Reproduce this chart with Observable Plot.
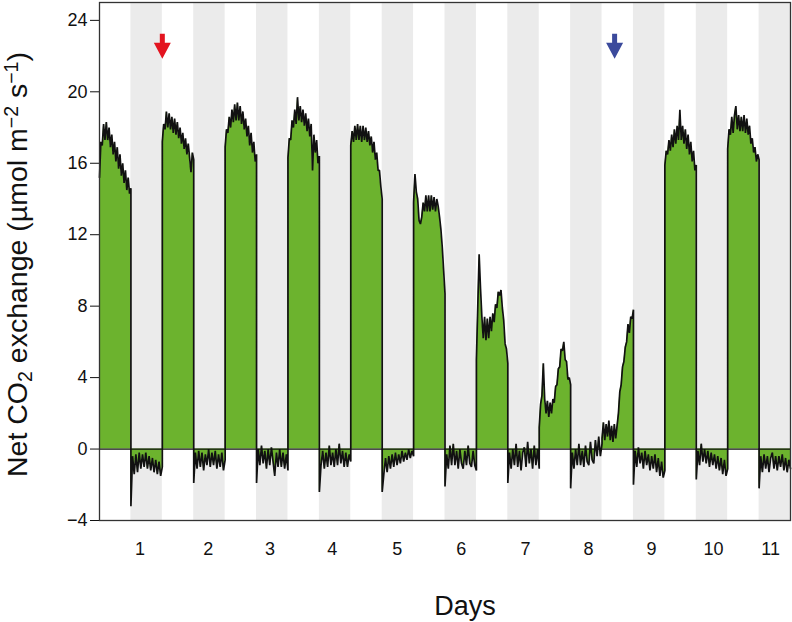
<!DOCTYPE html>
<html>
<head>
<meta charset="utf-8">
<script src="https://cdn.jsdelivr.net/npm/d3@7"></script>
<script src="https://cdn.jsdelivr.net/npm/@observablehq/plot@0.6"></script>
<style>
  body { margin: 0; background: #fff; }
  #chart svg { display: block; }
</style>
</head>
<body>
<div id="chart"></div>
<script>
// ---- Data: net CO2 exchange traces, one array per 12-h half-day (light, then dark) ----
const light1  = [15.2, 17.2, 17.0, 18.2, 17.3, 18.3, 17.3, 18.0, 16.9, 17.6, 16.5, 17.2, 16.1, 16.9, 15.7, 16.5, 15.3, 16.0, 14.9, 15.6, 14.5, 15.2, 14.3, 14.6];
const dark1   = [-3.2, -0.4, -1.4, -0.3, -1.3, -0.2, -1.1, -0.3, -1.0, -0.2, -1.1, -0.4, -1.2, -0.5, -1.3, -0.6, -1.4, -0.7, -1.5, -1.0];
const light2  = [17.2, 18.2, 17.9, 18.9, 18.0, 18.8, 17.9, 18.6, 17.7, 18.5, 17.6, 18.3, 17.4, 18.0, 17.1, 17.7, 16.8, 17.4, 16.5, 17.1, 16.3, 15.5, 16.6, 16.2];
const dark2   = [-1.9, -0.2, -1.1, -0.1, -1.0, -0.2, -1.2, -0.3, -0.9, 0.0, -1.0, -0.2, -0.9, -0.1, -1.1, -0.3, -1.0, -0.2, -1.2, -0.6];
const light3  = [16.9, 17.9, 17.7, 18.6, 18.0, 19.0, 18.3, 19.3, 18.4, 19.4, 18.4, 19.2, 18.2, 18.9, 17.9, 18.5, 17.5, 18.1, 17.0, 17.7, 16.6, 17.2, 16.1, 16.5];
const dark3   = [-1.9, 0.0, -0.9, 0.2, -0.8, -0.1, -1.1, 0.0, -0.9, 0.1, -0.7, -1.5, -0.2, -1.0, 0.0, -1.0, -0.2, -1.1, -0.3, -1.2];
const light4  = [16.3, 17.4, 17.3, 18.4, 18.0, 19.0, 18.2, 19.7, 18.4, 19.2, 18.3, 19.0, 18.1, 18.8, 17.8, 18.5, 17.5, 18.2, 15.6, 17.6, 16.6, 17.3, 16.0, 16.4];
const dark4   = [-2.4, -0.9, -0.1, -1.1, -0.2, -1.0, 0.2, -0.9, -0.2, -1.0, 0.0, -0.9, 0.3, -0.8, -0.1, -1.0, -0.2, -1.0, -0.3, -0.7];
const light5  = [17.0, 17.8, 17.2, 18.1, 17.3, 18.2, 17.3, 18.1, 17.2, 18.1, 17.3, 18.0, 17.2, 17.8, 17.0, 17.5, 16.6, 17.2, 16.2, 16.6, 15.6, 15.6, 14.7, 14.0];
const dark5   = [-2.4, -1.4, -0.5, -1.3, -0.4, -1.1, -0.3, -1.0, -0.2, -0.9, -0.3, -0.8, -0.1, -0.7, -0.2, -0.6, 0.0, -0.5, -0.1, -0.4];
const light6  = [13.8, 15.4, 14.4, 14.0, 12.8, 12.6, 13.0, 13.8, 13.3, 14.2, 13.3, 14.2, 13.3, 14.2, 13.4, 14.1, 13.3, 14.0, 13.6, 13.0, 12.3, 11.3, 10.0, 8.7];
const dark6   = [-2.1, -0.3, -1.1, 0.2, -0.9, 0.3, -0.9, -0.1, -1.1, 0.0, -0.8, -1.1, -0.1, -0.9, 0.2, -0.8, -1.0, -0.1, -0.9, -1.2];
const light7  = [5.0, 8.0, 10.9, 9.0, 7.4, 6.2, 7.4, 6.1, 7.3, 6.2, 7.4, 6.6, 7.6, 7.1, 8.1, 7.9, 8.8, 8.6, 8.9, 7.9, 7.2, 5.9, 5.6, 4.8];
const dark7   = [-1.9, -0.2, -1.1, 0.0, -0.9, 0.3, -1.0, -0.1, -1.2, -0.2, 0.1, -1.0, 0.4, -0.8, 0.0, -1.1, 0.2, -0.9, 0.0, -1.1];
const light8  = [1.2, 2.5, 3.0, 4.8, 2.8, 2.0, 2.7, 1.8, 2.6, 2.0, 2.8, 2.6, 3.5, 3.6, 4.5, 4.6, 5.6, 5.5, 6.0, 5.0, 4.9, 3.9, 4.0, 3.6];
const dark8   = [-2.2, -0.2, -1.1, 0.0, -0.9, 0.3, -0.9, -0.1, -1.0, 0.2, -0.7, -0.9, 0.4, -0.6, -0.8, 0.5, -0.4, 0.7, -0.4, 0.3];
const light9  = [0.6, 1.5, 0.5, 1.4, 0.7, 1.6, 0.5, 1.3, 0.4, 1.4, 0.6, 1.3, 2.0, 3.2, 3.6, 4.6, 4.9, 5.7, 6.0, 7.0, 6.5, 7.4, 7.3, 7.8];
const dark9   = [-2.0, -0.1, -1.0, 0.1, -0.8, -0.2, -1.1, -0.1, -0.9, -0.3, -1.2, -0.4, -1.1, -0.3, -1.3, -0.5, -1.5, -0.7, -1.6, -1.2];
const light10 = [15.9, 16.7, 16.5, 17.3, 16.7, 17.6, 16.9, 17.9, 17.1, 18.1, 17.3, 19.0, 17.3, 18.1, 17.1, 17.9, 16.8, 17.6, 16.5, 17.2, 16.1, 16.7, 15.6, 15.9];
const dark10  = [-1.7, -0.1, -0.9, 0.3, -0.7, 0.0, -0.8, -0.1, -1.0, -0.2, -0.9, -0.3, -1.1, -0.4, -1.2, -0.5, -1.4, -0.6, -1.5, -1.1];
const light11 = [16.8, 17.9, 17.6, 18.6, 17.7, 18.7, 19.2, 17.9, 18.7, 17.8, 18.6, 17.8, 18.7, 17.7, 18.5, 17.6, 18.1, 17.1, 17.4, 16.6, 16.9, 16.1, 16.5, 16.2];
const dark11  = [-2.2, -0.4, -1.3, -0.3, -1.1, -0.4, -1.3, -0.5, -0.2, -1.1, -0.4, -1.2, -0.4, -1.0, -0.3, -1.2, -0.5, -1.3, -0.6, -1.1];

const days = [1, 2, 3, 4, 5, 6, 7, 8, 9, 10, 11];
const dayLabels = ["1", "2", "3", "4", "5", "6", "7", "8", "9", "10", "11"];
const dayLabelPos = [0.645, 1.73, 2.716, 3.704, 4.74, 5.76, 6.78, 7.784, 8.787, 9.775, 10.683];
const yTicks = [-4, 0, 4, 8, 12, 16, 20, 24];
const arrowTimes = [1.0, 8.2];        // treatment markers (days)
const arrowColors = ["#e3141f", "#3b4a9c"];
const arrowLevel = 22.55;

// ---- Build table ----
const halfDays = [light1, dark1, light2, dark2, light3, dark3, light4, dark4, light5, dark5,
  light6, dark6, light7, dark7, light8, dark8, light9, dark9, light10, dark10, light11, dark11];
const trace = [];
halfDays.forEach((vals, p) => {
  vals.forEach((v, i) => trace.push({t: p * 0.5 + (i / (vals.length - 1)) * 0.5, v}));
});
const nights = days.map(d => ({start: d - 0.5, end: d}));
const arrows = arrowTimes.map((t, i) => ({t, y: arrowLevel, color: arrowColors[i]}));
const labelOf = new Map(dayLabelPos.map((p, i) => [p, dayLabels[i]]));

const arrowSymbol = {
  draw(context, size) {
    const r = Math.sqrt(size / Math.PI); // half height
    const shaftW = r * 0.2, headW = r * 0.68, headTop = -r + 2 * r * 0.36;
    context.moveTo(-shaftW, -r);
    context.lineTo(shaftW, -r);
    context.lineTo(shaftW, headTop);
    context.lineTo(headW, headTop);
    context.lineTo(0, r);
    context.lineTo(-headW, headTop);
    context.lineTo(-shaftW, headTop);
    context.closePath();
  }
};

const GREEN = "#6cb32e";
const font = "'Liberation Sans', Arial, Helvetica, sans-serif";

const chart = Plot.plot({
  width: 792,
  height: 622,
  marginLeft: 99,
  marginRight: 2,
  marginTop: 2,
  marginBottom: 102,
  style: {fontFamily: font, fontSize: "18px", color: "#111", background: "#fff"},
  x: {domain: [0, 11], ticks: dayLabelPos, tickFormat: d => labelOf.get(d), tickSize: 0, tickPadding: 22, label: null},
  y: {domain: [-4, 25], ticks: yTicks, tickSize: 9, tickPadding: 3, label: null},
  marks: [
    Plot.rect(nights, {x1: "start", x2: "end", y1: -4, y2: 25, fill: "#ebebeb"}),
    Plot.areaY(trace, {x: "t", y1: 0, y2: "v", fill: GREEN}),
    Plot.lineY(trace, {x: "t", y: "v", stroke: "#111", strokeWidth: 1.7, strokeLinejoin: "miter"}),
    Plot.ruleY([0], {stroke: "#111", strokeWidth: 1.2}),
    Plot.dot(arrows.slice(0, 1), {x: "t", y: "y", r: 12.5, symbol: arrowSymbol, fill: arrowColors[0], stroke: null}),
    Plot.dot(arrows.slice(1, 2), {x: "t", y: "y", r: 12.5, symbol: arrowSymbol, fill: arrowColors[1], stroke: null}),
    Plot.frame({stroke: "#333", strokeWidth: 1.3})
  ]
});
document.getElementById("chart").appendChild(chart);

// ---- Axis titles (real text) ----
const svg = d3.select(chart);
svg.append("text")
  .attr("x", 465).attr("y", 615)
  .attr("text-anchor", "middle")
  .attr("font-family", font).attr("font-size", 27).attr("fill", "#111")
  .text("Days");

const yl = svg.append("text")
  .attr("transform", "translate(27,477) rotate(-90)")
  .attr("text-anchor", "start")
  .attr("font-family", font).attr("font-size", 28.5).attr("fill", "#111");
const parts = [
  ["Net CO", 0], ["2", -1], [" exchange (\u00b5mol m", 0], ["\u22122", 1], [" s", 0], ["\u22121", 1], [")", 0]
];
parts.forEach(([s, k]) => {
  const ts = yl.append("tspan").text(s);
  if (k === -1) ts.attr("font-size", 19.5).attr("baseline-shift", "-25%");
  if (k === 1) ts.attr("font-size", 19.5).attr("baseline-shift", "45%");
});
</script>
</body>
</html>
